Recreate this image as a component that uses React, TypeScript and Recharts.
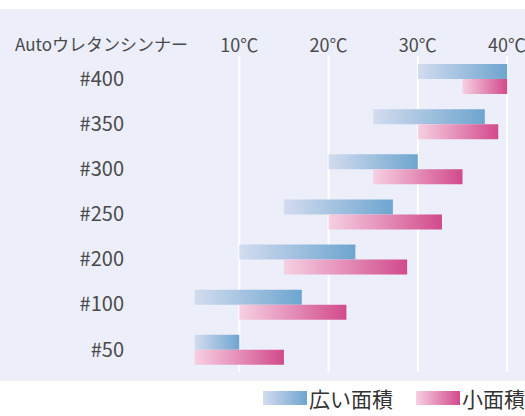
import React from "react";
import { BarChart, Bar, XAxis, YAxis, CartesianGrid } from "recharts";

const categories = ["#400", "#350", "#300", "#250", "#200", "#100", "#50"];
const wideArea: [number, number][] = [
  [30, 40],
  [25, 37.5],
  [20, 30],
  [15, 27.2],
  [10, 23],
  [5, 17],
  [5, 10],
];
const smallArea: [number, number][] = [
  [35, 40],
  [30, 39],
  [25, 35],
  [20, 32.7],
  [15, 28.8],
  [10, 22],
  [5, 15],
];
const tempTicks = [10, 20, 30, 40];
const headerLabel = "Autoウレタンシンナー";
const legendLabels = ["広い面積", "小面積"];

const data = categories.map((c, i) => ({
  name: c,
  wide: wideArea[i],
  small: smallArea[i],
}));

const FONT = "'Noto Sans CJK JP', 'Noto Sans', sans-serif";
const TEXT = "#4a4a4a";

const gridGen = (props: any) => {
  const sc = props && props.xAxis && props.xAxis.scale;
  if (!sc) return [];
  if (typeof sc.map === "function") return tempTicks.map((t) => sc.map(t));
  if (typeof sc === "function") return tempTicks.map((t) => sc(t));
  return [];
};

export default function App() {
  return (
    <div
      style={{
        position: "absolute",
        left: 0,
        top: 0,
        width: 525,
        height: 416,
        background: "#ffffff",
        fontFamily: FONT,
        overflow: "hidden",
      }}
    >
      <div
        style={{
          position: "absolute",
          left: 0,
          top: 9,
          width: 525,
          height: 372,
          background: "#eceefa",
        }}
      />
      <div
        style={{
          position: "absolute",
          left: 15,
          top: 32,
          fontSize: 17,
          color: TEXT,
          whiteSpace: "nowrap",
          lineHeight: "24px",
        }}
      >
        {headerLabel}
      </div>
      <div style={{ position: "absolute", left: 0, top: 0 }}>
        <BarChart
          width={525}
          height={416}
          data={data}
          layout="vertical"
          margin={{ top: 26, right: 0, bottom: 44, left: 0 }}
          barSize={15}
          barGap={0}
        >
          <defs>
            <linearGradient id="gBlue" x1="0" y1="0" x2="1" y2="0">
              <stop offset="0%" stopColor="#d3dcef" />
              <stop offset="100%" stopColor="#6ea5cf" />
            </linearGradient>
            <linearGradient id="gPink" x1="0" y1="0" x2="1" y2="0">
              <stop offset="0%" stopColor="#f6d0e2" />
              <stop offset="100%" stopColor="#d24a8c" />
            </linearGradient>
          </defs>
          <CartesianGrid
            horizontal={false}
            vertical={true}
            stroke="#ffffff"
            strokeWidth={2}
            verticalCoordinatesGenerator={gridGen}
          />
          <XAxis
            type="number"
            orientation="top"
            domain={[0, 42]}
            ticks={tempTicks}
            tickFormatter={(v: number) => `${v}℃`}
            axisLine={false}
            tickLine={false}
            tickSize={0}
            tickMargin={4}
            height={30}
            tick={{ fill: TEXT, fontSize: 18, fontFamily: FONT }}
          />
          <YAxis
            type="category"
            dataKey="name"
            width={150}
            axisLine={false}
            tickLine={false}
            tickSize={0}
            tickMargin={26}
            tick={{ fill: TEXT, fontSize: 20, fontFamily: FONT }}
          />
          <Bar dataKey="wide" fill="url(#gBlue)" isAnimationActive={false} />
          <Bar dataKey="small" fill="url(#gPink)" isAnimationActive={false} />
        </BarChart>
      </div>
      <div
        style={{
          position: "absolute",
          left: 263,
          top: 384,
          display: "flex",
          alignItems: "center",
          fontSize: 21,
          color: "#333",
          lineHeight: "28px",
          whiteSpace: "nowrap",
        }}
      >
        <div
          style={{
            width: 44,
            height: 14,
            background: "linear-gradient(to right, #d3dcef, #6ea5cf)",
            marginRight: 2,
          }}
        />
        <span>{legendLabels[0]}</span>
        <div
          style={{
            width: 44,
            height: 14,
            background: "linear-gradient(to right, #f6d0e2, #d24a8c)",
            marginLeft: 23,
            marginRight: 2,
          }}
        />
        <span>{legendLabels[1]}</span>
      </div>
    </div>
  );
}
